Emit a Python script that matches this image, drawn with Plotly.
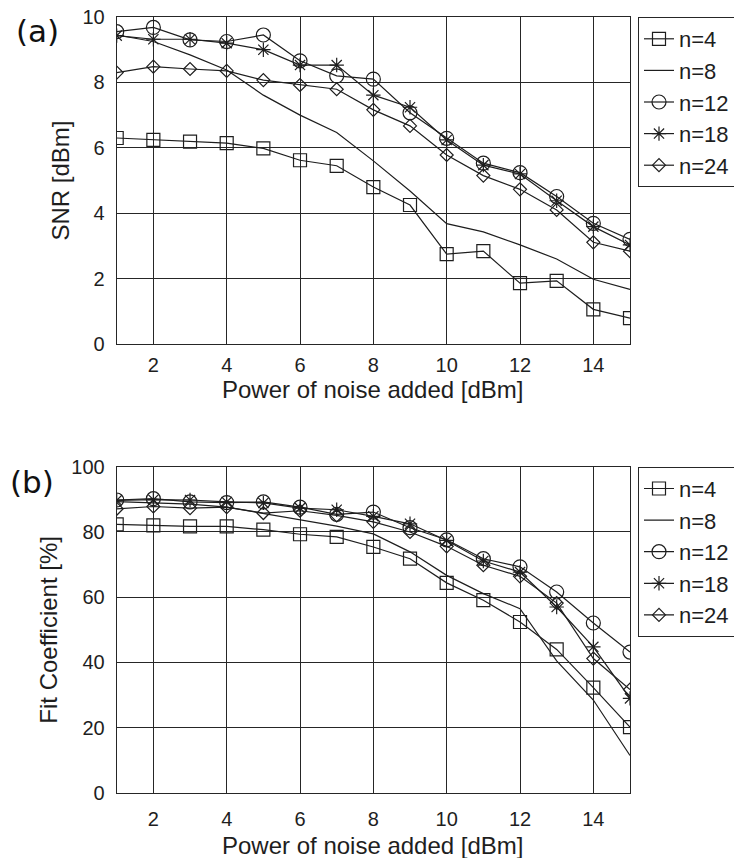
import plotly.graph_objects as go

x = list(range(1, 16))

snr_n4 = [6.30, 6.24, 6.19, 6.14, 5.98, 5.62, 5.45, 4.80, 4.25, 2.75, 2.84, 1.86, 1.93, 1.06, 0.79]
snr_n8 = [9.45, 9.25, 8.84, 8.38, 7.61, 7.00, 6.47, 5.60, 4.68, 3.68, 3.43, 3.03, 2.60, 1.98, 1.67]
snr_n12 = [9.55, 9.68, 9.30, 9.25, 9.45, 8.66, 8.20, 8.10, 7.07, 6.29, 5.53, 5.24, 4.51, 3.69, 3.20]
snr_n18 = [9.43, 9.32, 9.32, 9.20, 9.00, 8.53, 8.53, 7.61, 7.24, 6.24, 5.47, 5.20, 4.38, 3.59, 3.03]
snr_n24 = [8.30, 8.48, 8.41, 8.35, 8.07, 7.92, 7.79, 7.16, 6.67, 5.78, 5.15, 4.73, 4.10, 3.11, 2.84]

fit_n4 = [82.3, 82.0, 81.7, 81.7, 80.7, 79.3, 78.5, 75.4, 71.8, 64.4, 59.1, 52.4, 44.0, 32.3, 20.2]
fit_n8 = [89.3, 89.0, 88.5, 87.6, 85.6, 83.7, 81.8, 79.4, 73.9, 66.7, 61.1, 56.5, 40.5, 28.5, 11.5]
fit_n12 = [89.8, 90.2, 89.2, 89.0, 89.2, 87.6, 85.4, 86.1, 81.3, 77.6, 71.8, 69.3, 61.6, 52.1, 43.2]
fit_n18 = [89.7, 89.9, 89.8, 89.2, 88.9, 87.3, 86.8, 84.8, 82.5, 77.4, 71.1, 67.7, 57.0, 44.8, 29.0]
fit_n24 = [87.1, 87.8, 87.3, 87.6, 85.8, 86.5, 85.1, 83.1, 80.0, 75.6, 69.8, 66.4, 58.2, 41.2, 31.7]

labels = ["n=4", "n=8", "n=12", "n=18", "n=24"]
x_ticks = [2, 4, 6, 8, 10, 12, 14]
x_title = "Power of noise added [dBm]"

INK = "#1e1e1e"
GRID = "#262626"
LW = 1.2

styles = [
    dict(mode="lines+markers", marker=dict(symbol="square-open", size=13, color=INK, line=dict(width=LW, color=INK))),
    dict(mode="lines", marker=dict(size=1)),
    dict(mode="lines+markers", marker=dict(symbol="circle-open", size=14, color=INK, line=dict(width=LW, color=INK))),
    dict(mode="lines+markers", marker=dict(symbol="asterisk-open", size=12, color=INK, line=dict(width=LW, color=INK))),
    dict(mode="lines+markers", marker=dict(symbol="diamond-open", size=10, color=INK, line=dict(width=LW, color=INK))),
]

fig = go.Figure()

top = [snr_n4, snr_n8, snr_n12, snr_n18, snr_n24]
bot = [fit_n4, fit_n8, fit_n12, fit_n18, fit_n24]

for lab, ys, st in zip(labels, top, styles):
    fig.add_trace(go.Scatter(x=x, y=ys, name=lab, xaxis="x", yaxis="y",
                             line=dict(color=INK, width=LW), legend="legend", **st))
for lab, ys, st in zip(labels, bot, styles):
    fig.add_trace(go.Scatter(x=x, y=ys, name=lab, xaxis="x2", yaxis="y2",
                             line=dict(color=INK, width=LW), legend="legend2", **st))

W, H = 734, 858
xl, xr = 116.7 / W, 630 / W
ya_top, ya_bot = 1 - 17 / H, 1 - 344 / H
yb_top, yb_bot = 1 - 466.7 / H, 1 - 793 / H

tickfont = dict(family="Liberation Sans, Arial, sans-serif", size=20, color=INK)
titlefont = dict(family="Liberation Sans, Arial, sans-serif", size=24, color=INK)

def xaxis(anchor, standoff):
    return dict(domain=[xl, xr], anchor=anchor, range=[1, 15], tickvals=x_ticks,
                showgrid=True, gridcolor=GRID, gridwidth=1, showline=True, linecolor=GRID,
                linewidth=1, mirror=True, zeroline=False, ticks="", tickfont=tickfont,
                ticklabelstandoff=standoff, automargin=False)

def yaxis(anchor, dom, rng, dt, title):
    return dict(domain=dom, anchor=anchor, range=rng, dtick=dt, tick0=0,
                showgrid=True, gridcolor=GRID, gridwidth=1, showline=True, linecolor=GRID,
                linewidth=1, mirror=True, zeroline=False, ticks="", tickfont=tickfont,
                ticklabelstandoff=7, automargin=False,
                title=dict(text=title, font=titlefont, standoff=6))

legfont = dict(family="Liberation Sans, Arial, sans-serif", size=22, color=INK)

xc = (xl + xr) / 2

fig.update_layout(
    width=W, height=H,
    margin=dict(l=0, r=0, t=0, b=0, autoexpand=False),
    paper_bgcolor="white", plot_bgcolor="white",
    xaxis=xaxis("y", 3),
    yaxis=yaxis("x", [ya_bot, ya_top], [0, 10], 2, "SNR [dBm]"),
    xaxis2=xaxis("y2", 8),
    yaxis2=yaxis("x2", [yb_bot, yb_top], [0, 100], 20, "Fit Coefficient [%]"),
    legend=dict(x=638 / W, y=ya_top, xanchor="left", yanchor="top", font=legfont,
                bordercolor=GRID, borderwidth=1, bgcolor="white", tracegroupgap=0),
    legend2=dict(x=638 / W, y=yb_top, xanchor="left", yanchor="top", font=legfont,
                 bordercolor=GRID, borderwidth=1, bgcolor="white", tracegroupgap=0),
    showlegend=True,
    annotations=[
        dict(text="(a)", x=37 / W, y=1 - 31 / H, xref="paper", yref="paper",
             xanchor="center", yanchor="middle",
             showarrow=False, font=dict(family="DejaVu Sans", size=31, color="#111111")),
        dict(text="(b)", x=32 / W, y=1 - 482 / H, xref="paper", yref="paper",
             xanchor="center", yanchor="middle",
             showarrow=False, font=dict(family="DejaVu Sans", size=31, color="#111111")),
        dict(text=x_title, x=xc, y=1 - 389 / H, xref="paper", yref="paper",
             xanchor="center", yanchor="middle", showarrow=False, font=titlefont),
        dict(text=x_title, x=xc, y=1 - 845 / H, xref="paper", yref="paper",
             xanchor="center", yanchor="middle", showarrow=False, font=titlefont),
    ],
)

fig.write_html("out.html", config={"displayModeBar": False},
               post_script="document.body.style.margin='0';document.body.style.overflow='hidden';")
